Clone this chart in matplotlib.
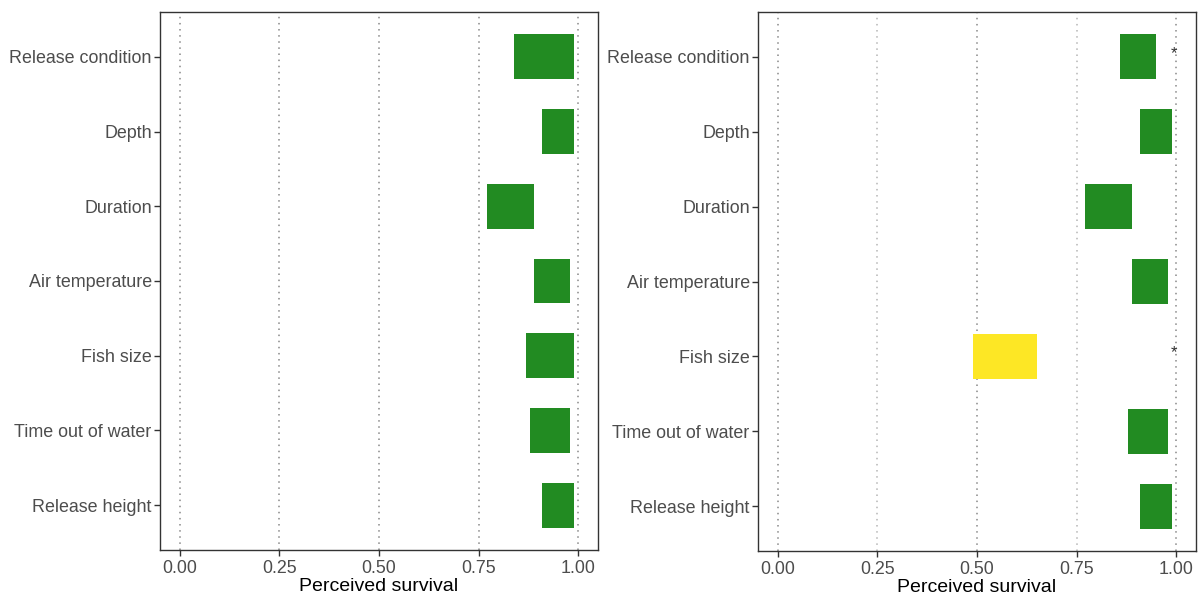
import matplotlib
matplotlib.use("Agg")
import matplotlib.pyplot as plt
from matplotlib.patches import Rectangle

plt.rcParams['font.family'] = ['Liberation Sans', 'DejaVu Sans']

categories = ["Release condition", "Depth", "Duration", "Air temperature",
              "Fish size", "Time out of water", "Release height"]

left_lo = [0.84, 0.91, 0.77, 0.89, 0.87, 0.88, 0.91]
left_hi = [0.99, 0.99, 0.89, 0.98, 0.99, 0.98, 0.99]
left_col = ["#228B22"] * 7
left_star = [False] * 7

right_lo = [0.86, 0.91, 0.77, 0.89, 0.49, 0.88, 0.91]
right_hi = [0.95, 0.99, 0.89, 0.98, 0.65, 0.98, 0.99]
right_col = ["#228B22", "#228B22", "#228B22", "#228B22", "#FDE725", "#228B22", "#228B22"]
right_star = [True, False, False, False, True, False, False]

xticks = [0.0, 0.25, 0.5, 0.75, 1.0]
xticklabels = ["0.00", "0.25", "0.50", "0.75", "1.00"]

fig = plt.figure(figsize=(11.98, 5.96), dpi=100)
ax1 = fig.add_axes([160/1198, 1-550/596, 438/1198, 538/596])
ax2 = fig.add_axes([758/1198, 1-551/596, 438/1198, 539/596])

def draw(ax, lo, hi, cols, stars, light_grid):
    n = len(categories)
    ys = [n - 1 - i for i in range(n)]
    for i, x in enumerate(xticks):
        c = "#888888"
        if light_grid and x in (0.25, 0.75):
            c = "#b5b5b5"
        ax.axvline(x, color=c, lw=1.1, ls=(0, (1, 3)), zorder=0)
    for y, a, b, c in zip(ys, lo, hi, cols):
        ax.add_patch(Rectangle((a, y - 0.3), b - a, 0.6, facecolor=c,
                               edgecolor="none", zorder=2))
    for y, s in zip(ys, stars):
        if s:
            ax.text(0.995, y + 0.05, "*", ha="center", va="center",
                    fontsize=12, color="#333333", zorder=3)
    ax.set_xlim(-0.05, 1.05)
    ax.set_ylim(-0.6, n - 0.4)
    ax.set_yticks(ys)
    ax.set_yticklabels(categories)
    ax.set_xticks(xticks)
    ax.set_xticklabels(xticklabels)
    ax.tick_params(axis="both", colors="#333333", labelcolor="#4D4D4D",
                   labelsize=12.9, length=4, width=1)
    ax.tick_params(axis="x", pad=3)
    ax.tick_params(axis="y", pad=2)
    for sp in ax.spines.values():
        sp.set_color("#333333")
        sp.set_linewidth(1.0)
    ax.set_xlabel("Perceived survival", fontsize=14, color="black", labelpad=1)

draw(ax1, left_lo, left_hi, left_col, left_star, False)
draw(ax2, right_lo, right_hi, right_col, right_star, True)

fig.savefig("out.png", dpi=100)
